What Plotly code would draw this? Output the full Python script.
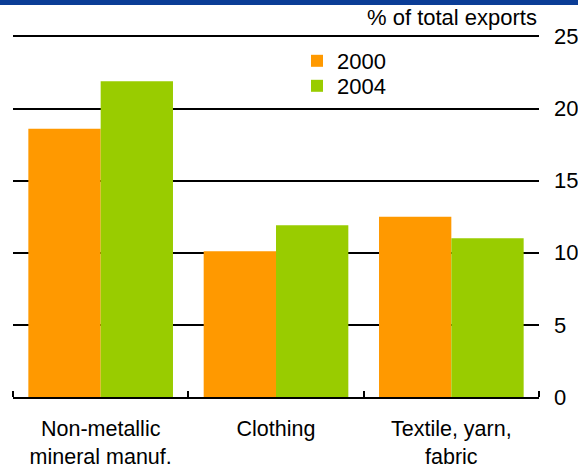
import plotly.graph_objects as go

categories = ["Non-metallic<br>mineral manuf.", "Clothing", "Textile, yarn,<br>fabric"]
series_names = ["2000", "2004"]
values_2000 = [18.6, 10.1, 12.5]
values_2004 = [21.9, 11.9, 11.0]
y_ticks = [0, 5, 10, 15, 20, 25]

FONT = "Liberation Sans, Arial, sans-serif"
ORANGE = "#FF9900"
GREEN = "#99CC00"

W, H = 578, 468
ml, mr, mt, mb = 13, 39, 35, 71
ph = H - mt - mb
pw = W - ml - mr
YMAX = 25.1
TICKLEN = 6


def px_to_paper_y(py):
    return 1 - (py - mt) / ph


fig = go.Figure()
fig.add_trace(go.Bar(x=categories, y=values_2000, name=series_names[0], legend="legend",
                     marker=dict(color=ORANGE, line=dict(width=0))))
fig.add_trace(go.Bar(x=categories, y=values_2004, name=series_names[1], legend="legend2",
                     marker=dict(color=GREEN, line=dict(width=0))))

leg_common = dict(xanchor="left", yanchor="top", bgcolor="rgba(0,0,0,0)",
                  font=dict(size=22), itemwidth=30)

# end ticks of the category axis (plotly drops inside ticks at the exact ends)
edge_ticks = [
    dict(type="line", xref="paper", yref="paper", x0=xe, x1=xe,
         y0=0, y1=TICKLEN / ph, line=dict(color="black", width=2), layer="above")
    for xe in (0, 1)
]

fig.update_layout(
    width=W, height=H,
    margin=dict(l=ml, r=mr, t=mt, b=mb, autoexpand=False),
    paper_bgcolor="white", plot_bgcolor="white",
    font=dict(family=FONT, size=22, color="black"),
    barmode="group", bargap=0.175, bargroupgap=0,
    showlegend=True,
    legend=dict(x=(297 - ml) / pw, y=px_to_paper_y(40), **leg_common),
    legend2=dict(x=(297 - ml) / pw, y=px_to_paper_y(65), **leg_common),
    xaxis=dict(
        type="category", showgrid=False, showline=True, linecolor="black", linewidth=2,
        ticks="inside", tickson="boundaries", ticklen=TICKLEN, tickwidth=2, tickcolor="black",
        tickfont=dict(size=21.5), ticklabelstandoff=11, fixedrange=True, automargin=False,
    ),
    yaxis=dict(
        range=[0, YMAX], side="right", tickvals=y_ticks, showgrid=True,
        gridcolor="black", gridwidth=1.6, zeroline=False, showline=False,
        ticks="", tickfont=dict(size=22), ticklabelstandoff=14, fixedrange=True,
        automargin=False,
    ),
    shapes=[
        dict(type="rect", xref="paper", yref="paper",
             x0=-ml / pw - 0.01, x1=1 + mr / pw + 0.01,
             y0=px_to_paper_y(5), y1=px_to_paper_y(-2),
             fillcolor="#0B3D96", line=dict(width=0), layer="above"),
    ] + edge_ticks,
    annotations=[
        dict(text="% of total exports", xref="paper", yref="paper", x=1,
             y=px_to_paper_y(37), xanchor="right", yanchor="bottom", yshift=5,
             showarrow=False, font=dict(size=22, family=FONT)),
    ],
)

fig.write_html("out.html", config={"displayModeBar": False},
               post_script="document.body.style.margin='0';document.body.style.overflow='hidden';")
